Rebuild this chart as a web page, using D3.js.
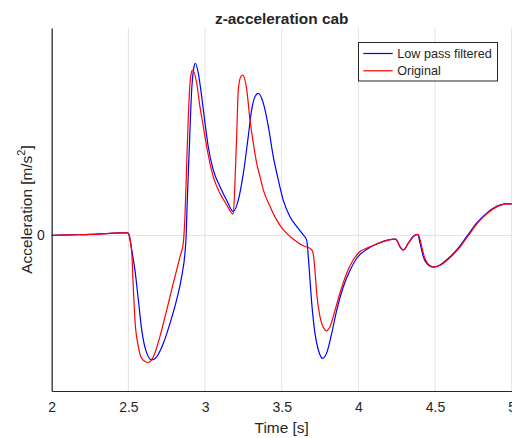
<!DOCTYPE html>
<html>
<head>
<meta charset="utf-8">
<script src="https://cdn.jsdelivr.net/npm/d3@7"></script>
<style>
  html, body { margin: 0; padding: 0; background: #fff; }
  svg { display: block; }
  text { font-family: "Liberation Sans", Arial, Helvetica, sans-serif; fill: #262626; }
</style>
</head>
<body>
<svg id="chart" width="512" height="438"></svg>
<script>
// Time stamps [s] and z-acceleration of the cab (unscaled units, 0 = rest level)
const filteredTime = [
  2.000, 2.119, 2.250, 2.380, 2.458, 2.491, 2.500, 2.511, 2.522, 2.543, 2.565, 2.587, 2.620,
  2.652, 2.685, 2.728, 2.772, 2.815, 2.848, 2.869, 2.877, 2.882, 2.897, 2.913, 2.928, 2.937,
  2.956, 2.978, 3.000, 3.021, 3.054, 3.098, 3.141, 3.184, 3.217, 3.250, 3.282, 3.304, 3.326,
  3.347, 3.380, 3.413, 3.445, 3.478, 3.510, 3.554, 3.598, 3.641, 3.663, 3.667, 3.680, 3.696,
  3.717, 3.739, 3.767, 3.793, 3.826, 3.859, 3.902, 3.946, 3.989, 4.054, 4.130, 4.239, 4.250,
  4.272, 4.293, 4.326, 4.358, 4.387, 4.402, 4.424, 4.456, 4.489, 4.532, 4.576, 4.641, 4.707,
  4.772, 4.837, 4.902, 4.957, 5.000
];
const filteredAccel = [
  0.00, 0.01, 0.02, 0.04, 0.05, 0.05, 0.04, -0.09, -0.28, -0.67, -1.24, -1.82, -2.27,
  -2.40, -2.34, -2.08, -1.69, -1.24, -0.79, -0.34, 0.01, 0.49, 1.65, 2.81, 3.25, 3.32,
  3.13, 2.68, 2.16, 1.71, 1.26, 0.94, 0.68, 0.46, 0.68, 1.20, 1.91, 2.42, 2.68,
  2.74, 2.55, 2.10, 1.52, 1.07, 0.68, 0.36, 0.17, 0.01, -0.09, -0.18, -0.67, -1.31,
  -1.89, -2.21, -2.37, -2.27, -1.89, -1.44, -0.99, -0.67, -0.44, -0.27, -0.15, -0.07, -0.09,
  -0.22, -0.28, -0.15, -0.02, 0.02, -0.15, -0.41, -0.57, -0.61, -0.57, -0.47, -0.28, -0.02,
  0.24, 0.43, 0.56, 0.61, 0.61
];

const originalTime = [
  2.000, 2.119, 2.250, 2.380, 2.458, 2.491, 2.500, 2.522, 2.532, 2.543, 2.565, 2.587, 2.630,
  2.663, 2.706, 2.750, 2.793, 2.837, 2.858, 2.869, 2.880, 2.891, 2.902, 2.913, 2.920, 2.946,
  2.967, 2.989, 3.011, 3.032, 3.054, 3.098, 3.141, 3.184, 3.195, 3.207, 3.217, 3.233, 3.246,
  3.272, 3.293, 3.315, 3.337, 3.359, 3.380, 3.424, 3.467, 3.510, 3.554, 3.598, 3.641, 3.685,
  3.702, 3.717, 3.728, 3.750, 3.782, 3.792, 3.815, 3.848, 3.880, 3.924, 3.967, 4.011, 4.076,
  4.141, 4.239, 4.250, 4.272, 4.293, 4.326, 4.358, 4.390, 4.408, 4.430, 4.462, 4.495, 4.538,
  4.582, 4.647, 4.713, 4.778, 4.843, 4.908, 4.963, 5.000
];
const originalAccel = [
  0.00, 0.01, 0.02, 0.04, 0.05, 0.05, 0.04, -0.34, -0.99, -1.63, -2.14, -2.37, -2.45,
  -2.34, -1.95, -1.44, -0.92, -0.41, -0.15, 0.36, 1.33, 2.29, 2.93, 3.16, 3.19, 2.93,
  2.48, 2.10, 1.71, 1.39, 1.13, 0.81, 0.59, 0.41, 1.01, 1.97, 2.81, 3.06, 3.09,
  2.81, 2.23, 1.78, 1.39, 1.13, 0.88, 0.56, 0.30, 0.11, -0.02, -0.12, -0.20, -0.25,
  -0.31, -0.67, -1.11, -1.57, -1.82, -1.84, -1.76, -1.44, -1.11, -0.73, -0.47, -0.31, -0.22,
  -0.14, -0.07, -0.09, -0.22, -0.28, -0.15, -0.02, 0.02, -0.15, -0.41, -0.57, -0.61, -0.57,
  -0.47, -0.28, -0.02, 0.24, 0.43, 0.56, 0.61, 0.61
];

const xTicks = [2, 2.5, 3, 3.5, 4, 4.5, 5];
const yTicks = [0];
const seriesNames = ["Low pass filtered", "Original"];
const seriesColors = ["#0000ff", "#ff0000"];

const svg = d3.select("#chart");
const plotLeft = 51.7, plotRight = 511.7, plotTop = 28, plotBottom = 391;

const x = d3.scaleLinear().domain([2, 5]).range([plotLeft, plotRight]);
const y = d3.scaleLinear().domain([-3, 4]).range([plotBottom, plotTop]);

// grid lines
svg.append("g").selectAll("line").data(xTicks).join("line")
  .attr("x1", d => x(d)).attr("x2", d => x(d))
  .attr("y1", plotTop).attr("y2", plotBottom)
  .attr("stroke", "#e3e3e3").attr("stroke-width", 1);
svg.append("g").selectAll("line").data(yTicks).join("line")
  .attr("x1", plotLeft).attr("x2", plotRight)
  .attr("y1", d => y(d)).attr("y2", d => y(d))
  .attr("stroke", "#e3e3e3").attr("stroke-width", 1);

// data lines
const series = [
  { t: filteredTime, v: filteredAccel },
  { t: originalTime, v: originalAccel }
];
const line = d3.line().x(d => x(d[0])).y(d => y(d[1])).curve(d3.curveMonotoneX);
series.forEach((s, i) => {
  const pts = s.t.map((t, k) => [t, s.v[k]]);
  svg.append("path").datum(pts)
    .attr("d", line)
    .attr("fill", "none")
    .attr("stroke", seriesColors[i])
    .attr("stroke-width", 1.2)
    .attr("stroke-linejoin", "round");
});

// axes
const xAxis = d3.axisBottom(x).tickValues(xTicks).tickSize(0).tickPadding(11)
  .tickFormat(d3.format("~g"));
const gx = svg.append("g").attr("transform", `translate(0,${plotBottom})`).call(xAxis);
gx.select(".domain").attr("stroke", "#262626").attr("stroke-width", 1.2);
gx.selectAll("text").attr("font-size", 14).attr("fill", "#262626")
  .attr("font-family", "'Liberation Sans', Arial, sans-serif");

const yAxis = d3.axisLeft(y).tickValues(yTicks).tickSize(0).tickPadding(7)
  .tickFormat(d3.format("~g"));
const gy = svg.append("g").attr("transform", `translate(${plotLeft},0)`).call(yAxis);
gy.select(".domain").attr("stroke", "#262626").attr("stroke-width", 1.2);
gy.selectAll("text").attr("font-size", 14).attr("fill", "#262626")
  .attr("font-family", "'Liberation Sans', Arial, sans-serif");

// title and axis labels
svg.append("text")
  .attr("x", (plotLeft + plotRight) / 2).attr("y", 23.5)
  .attr("text-anchor", "middle")
  .attr("font-size", 15.4).attr("font-weight", "bold")
  .text("z-acceleration cab");

svg.append("text")
  .attr("x", (plotLeft + plotRight) / 2).attr("y", 433)
  .attr("text-anchor", "middle")
  .attr("font-size", 15.4)
  .text("Time [s]");

const yl = svg.append("text")
  .attr("transform", `translate(31.5,${(plotTop + plotBottom) / 2}) rotate(-90)`)
  .attr("text-anchor", "middle")
  .attr("font-size", 15.4);
yl.append("tspan").text("Acceleration [m/s");
yl.append("tspan").attr("font-size", 11).attr("dy", -7).text("2");
yl.append("tspan").attr("dy", 7).text("]");

// legend
const lg = svg.append("g");
lg.append("rect")
  .attr("x", 358.5).attr("y", 42.5).attr("width", 139).attr("height", 38.5)
  .attr("fill", "#fff").attr("stroke", "#262626").attr("stroke-width", 1);
seriesNames.forEach((name, i) => {
  const ly = 53.5 + i * 17.3;
  lg.append("line")
    .attr("x1", 363.3).attr("x2", 392.7).attr("y1", ly).attr("y2", ly)
    .attr("stroke", seriesColors[i]).attr("stroke-width", 1.2);
  lg.append("text")
    .attr("x", 397.3).attr("y", ly + 4.5)
    .attr("font-size", 12.6)
    .text(name);
});
</script>
</body>
</html>
